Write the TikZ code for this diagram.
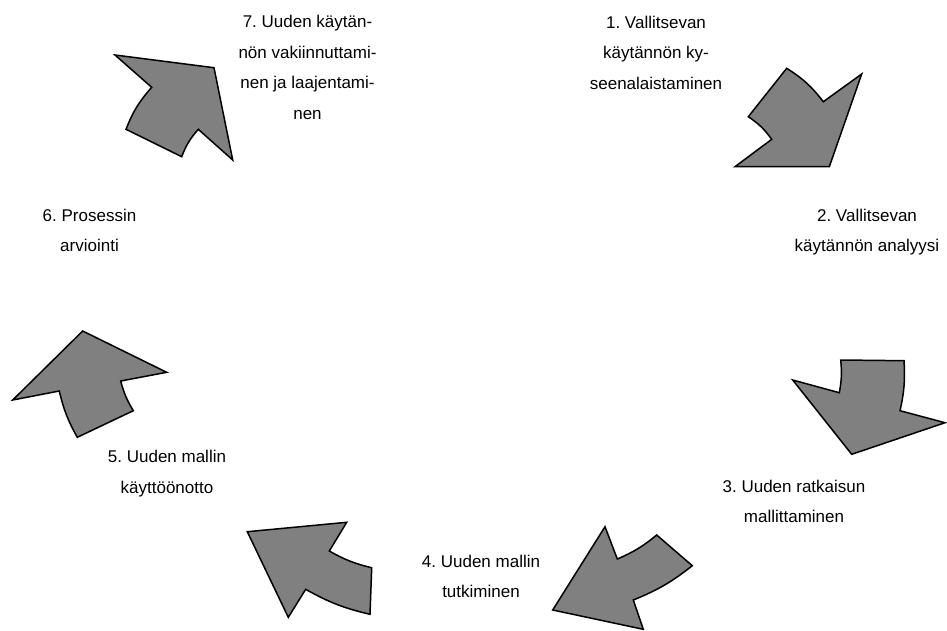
\documentclass[tikz,border=0pt]{standalone}
\usepackage{fontspec}
\setmainfont{Liberation Sans}
\frenchspacing
\definecolor{arrowgray}{RGB}{128,128,128}
\tikzset{
  cyclearrow/.style={draw=black, fill=arrowgray, line width=1.5pt, line join=miter},
  steplabel/.style={align=center, anchor=north, inner sep=0pt, font=\fontsize{17}{30.5}\selectfont},
}
\begin{document}
\begin{tikzpicture}[x=1pt,y=-1pt]
\useasboundingbox (0,0) rectangle (947,630);

% labels
\node[steplabel] (l1) at (656,15.8) {1. Vallitsevan\\käytännön ky-\\seenalaistaminen};
\node[steplabel] (l2) at (867,208.8) {2. Vallitsevan\\käytännön analyysi};
\node[steplabel] (l3) at (794,479.5) {3. Uuden ratkaisun\\mallittaminen};
\node[steplabel] (l4) at (481,554.8) {4. Uuden mallin\\tutkiminen};
\node[steplabel] (l5) at (167,450.1) {5. Uuden mallin\\käyttöönotto};
\node[steplabel] (l6) at (89.5,208.8) {6. Prosessin\\arviointi};
\node[steplabel] (l7) at (307.5,15.3) {7. Uuden käytän-\\nön vakiinnuttami-\\nen ja laajentami-\\nen};

% arrow 1 -> 2
\draw[cyclearrow] (786.7,68.3) to[bend left=10] (823.3,101.7) -- (861.7,74) -- (829.3,166.7)
  -- (735,166.7) -- (771.7,139.3) to[bend right=10] (748.3,116.7) -- cycle;
% arrow 2 -> 3
\draw[cyclearrow] (840.7,360) -- (904,360.7) to[bend left=8] (900,410.7) -- (945,422.7)
  -- (851.7,454.3) -- (792.7,380) -- (839.3,392.7) to[bend right=8] (840.7,360) -- cycle;
% arrow 3 -> 4
\draw[cyclearrow] (605,526.7) -- (617.3,559) to[bend right=8] (656.7,535) -- (692.3,565.7)
  to[bend left=8] (633.3,600) -- (643.3,629.3) -- (552.7,610) -- cycle;
% arrow 4 -> 5
\draw[cyclearrow] (247.3,531.7) -- (346.7,522.3) -- (329.3,551) to[bend right=8] (371.7,567.7)
  -- (370,614.3) to[bend left=8] (305.7,589.3) -- (288.3,617.3) -- cycle;
% arrow 5 -> 6
\draw[cyclearrow] (82.7,331) -- (166.7,372.3) -- (120.7,381) to[bend right=8] (133.3,410.7)
  -- (77.3,437.3) to[bend left=8] (59.3,391) -- (12.7,400) -- cycle;
% arrow 6 -> 7
\draw[cyclearrow] (115,55) -- (214,67.7) -- (232.7,160) -- (198.3,129.3) to[bend right=10] (181.7,156.7)
  -- (126,129.3) to[bend left=10] (151.7,87.3) -- cycle;
\end{tikzpicture}
\end{document}
